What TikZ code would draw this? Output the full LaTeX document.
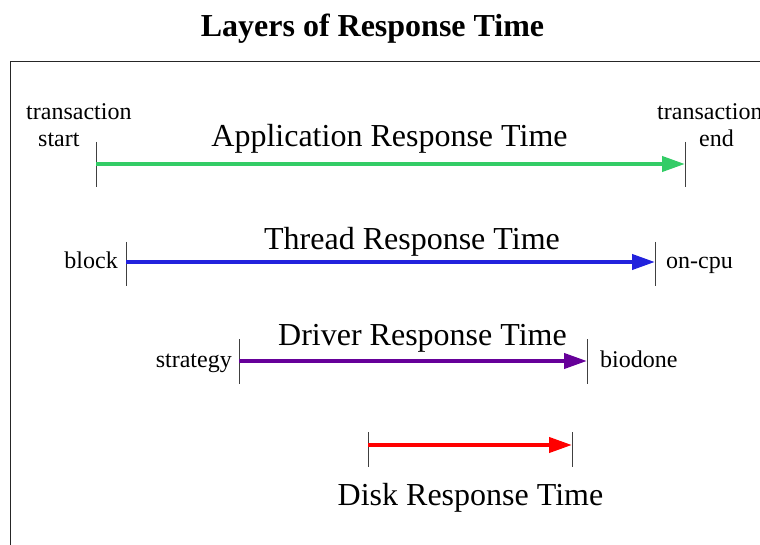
\documentclass[tikz,border=0pt]{standalone}
\usepackage{fontspec}
\setmainfont{Liberation Serif}
\usetikzlibrary{arrows.meta}
\definecolor{appgreen}{RGB}{51,204,102}
\definecolor{thrblue}{RGB}{34,34,221}
\definecolor{drvpurple}{RGB}{102,0,153}
\definecolor{dskred}{RGB}{255,0,0}
\tikzset{
  big/.style={inner sep=0pt, font=\fontsize{32}{38}\selectfont, anchor=base},
  small/.style={inner sep=0pt, font=\fontsize{24}{28}\selectfont},
  tick/.style={draw=black!75, line width=1pt},
  flow/.style={line width=4pt, -{Triangle[length=23pt,width=15pt]}},
  frame/.style={draw=black!85, line width=1pt}
}
\begin{document}
\begin{tikzpicture}[x=1pt,y=-1pt]
\useasboundingbox (0,0) rectangle (760,545);
% frame
\draw[frame] (10,545) -- (10,62) -- (760,62);
% title
\node[big, font=\fontsize{32}{38}\selectfont\bfseries] (title) at (372.5,37) {Layers of Response Time};

% row 1
\coordinate (s1) at (96,164);
\coordinate (e1) at (685,164);
\draw[tick] (s1) ++(0,-22) -- ++(0,45);
\draw[tick] (e1) ++(0,-22) -- ++(0,45);
\draw[flow, appgreen] (s1) -- (e1);
\node[big] (t1) at (389.5,147) {Application Response Time};
\node[small, anchor=base west] (l1a) at (26,120) {transaction};
\node[small, anchor=base west] (l1b) at (38,147) {start};
\node[small, anchor=base west] (r1a) at (657,120) {transaction};
\node[small, anchor=base west] (r1b) at (699,147) {end};

% row 2
\coordinate (s2) at (126,262);
\coordinate (e2) at (655,262);
\draw[tick] (s2) ++(0,-20) -- ++(0,44);
\draw[tick] (e2) ++(0,-20) -- ++(0,44);
\draw[flow, thrblue] (s2) -- (e2);
\node[big] (t2) at (412,250) {Thread Response Time};
\node[small, anchor=base east] (l2) at (118,269) {block};
\node[small, anchor=base west] (r2) at (666,269) {on-cpu};

% row 3
\coordinate (s3) at (239,361);
\coordinate (e3) at (587,361);
\draw[tick] (s3) ++(0,-22) -- ++(0,45);
\draw[tick] (e3) ++(0,-22) -- ++(0,45);
\draw[flow, drvpurple] (s3) -- (e3);
\node[big] (t3) at (422.5,345) {Driver Response Time};
\node[small, anchor=base east] (l3) at (232,367) {strategy};
\node[small, anchor=base west] (r3) at (600,367) {biodone};

% row 4
\coordinate (s4) at (368,445);
\coordinate (e4) at (572,445);
\draw[tick] (s4) ++(0,-13) -- ++(0,35);
\draw[tick] (e4) ++(0,-13) -- ++(0,35);
\draw[flow, dskred] (s4) -- (e4);
\node[big] (t4) at (470.5,505) {Disk Response Time};
\end{tikzpicture}
\end{document}
